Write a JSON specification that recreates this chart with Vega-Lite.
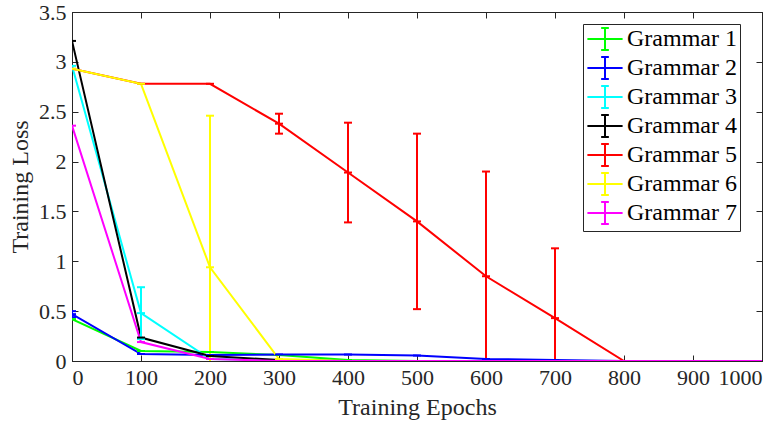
{
  "$schema": "https://vega.github.io/schema/vega-lite/v6.json",
  "width": 690,
  "height": 349,
  "autosize": "none",
  "padding": {"left": 72, "top": 12, "right": 22, "bottom": 62},
  "background": "white",
  "config": {
    "view": {"stroke": "#262626", "strokeWidth": 1},
    "font": "'Liberation Serif', 'Times New Roman', serif",
    "axis": {
      "labelFont": "'Liberation Serif', 'Times New Roman', serif",
      "titleFont": "'Liberation Serif', 'Times New Roman', serif",
      "labelFontSize": 22,
      "titleFontSize": 24,
      "titleFontWeight": "normal",
      "labelColor": "#262626",
      "titleColor": "#262626",
      "domainColor": "#262626",
      "tickColor": "#262626",
      "grid": false,
      "tickSize": -6,
      "labelPadding": 12
    }
  },
  "data": {
    "values": [
      {"g": "Grammar 1", "epoch": 0, "loss": 0.42},
      {"g": "Grammar 1", "epoch": 100, "loss": 0.10},
      {"g": "Grammar 1", "epoch": 200, "loss": 0.09},
      {"g": "Grammar 1", "epoch": 300, "loss": 0.06},
      {"g": "Grammar 1", "epoch": 400, "loss": 0.01},
      {"g": "Grammar 1", "epoch": 500, "loss": 0},
      {"g": "Grammar 1", "epoch": 600, "loss": 0},
      {"g": "Grammar 1", "epoch": 700, "loss": 0},
      {"g": "Grammar 1", "epoch": 800, "loss": 0},
      {"g": "Grammar 1", "epoch": 900, "loss": 0},
      {"g": "Grammar 1", "epoch": 1000, "loss": 0},
      {"g": "Grammar 2", "epoch": 0, "loss": 0.47, "lo": 0.44, "hi": 0.50},
      {"g": "Grammar 2", "epoch": 100, "loss": 0.07},
      {"g": "Grammar 2", "epoch": 200, "loss": 0.06},
      {"g": "Grammar 2", "epoch": 300, "loss": 0.065},
      {"g": "Grammar 2", "epoch": 400, "loss": 0.065},
      {"g": "Grammar 2", "epoch": 500, "loss": 0.055},
      {"g": "Grammar 2", "epoch": 600, "loss": 0.02},
      {"g": "Grammar 2", "epoch": 700, "loss": 0.01},
      {"g": "Grammar 2", "epoch": 800, "loss": 0},
      {"g": "Grammar 2", "epoch": 900, "loss": 0},
      {"g": "Grammar 2", "epoch": 1000, "loss": 0},
      {"g": "Grammar 3", "epoch": 0, "loss": 2.96},
      {"g": "Grammar 3", "epoch": 100, "loss": 0.48, "lo": 0.22, "hi": 0.74},
      {"g": "Grammar 3", "epoch": 200, "loss": 0.02},
      {"g": "Grammar 3", "epoch": 300, "loss": 0.01},
      {"g": "Grammar 3", "epoch": 400, "loss": 0},
      {"g": "Grammar 3", "epoch": 500, "loss": 0},
      {"g": "Grammar 3", "epoch": 600, "loss": 0},
      {"g": "Grammar 3", "epoch": 700, "loss": 0},
      {"g": "Grammar 3", "epoch": 800, "loss": 0},
      {"g": "Grammar 3", "epoch": 900, "loss": 0},
      {"g": "Grammar 3", "epoch": 1000, "loss": 0},
      {"g": "Grammar 4", "epoch": 0, "loss": 3.21},
      {"g": "Grammar 4", "epoch": 100, "loss": 0.235},
      {"g": "Grammar 4", "epoch": 200, "loss": 0.05},
      {"g": "Grammar 4", "epoch": 300, "loss": 0.01},
      {"g": "Grammar 4", "epoch": 400, "loss": 0},
      {"g": "Grammar 4", "epoch": 500, "loss": 0},
      {"g": "Grammar 4", "epoch": 600, "loss": 0},
      {"g": "Grammar 4", "epoch": 700, "loss": 0},
      {"g": "Grammar 4", "epoch": 800, "loss": 0},
      {"g": "Grammar 4", "epoch": 900, "loss": 0},
      {"g": "Grammar 4", "epoch": 1000, "loss": 0},
      {"g": "Grammar 5", "epoch": 0, "loss": 2.93},
      {"g": "Grammar 5", "epoch": 100, "loss": 2.78},
      {"g": "Grammar 5", "epoch": 200, "loss": 2.78},
      {"g": "Grammar 5", "epoch": 300, "loss": 2.38, "lo": 2.28, "hi": 2.48},
      {"g": "Grammar 5", "epoch": 400, "loss": 1.89, "lo": 1.39, "hi": 2.39},
      {"g": "Grammar 5", "epoch": 500, "loss": 1.40, "lo": 0.52, "hi": 2.28},
      {"g": "Grammar 5", "epoch": 600, "loss": 0.85, "lo": -0.2, "hi": 1.90},
      {"g": "Grammar 5", "epoch": 700, "loss": 0.43, "lo": -0.27, "hi": 1.13},
      {"g": "Grammar 5", "epoch": 800, "loss": 0},
      {"g": "Grammar 5", "epoch": 900, "loss": 0},
      {"g": "Grammar 5", "epoch": 1000, "loss": 0},
      {"g": "Grammar 6", "epoch": 0, "loss": 2.93},
      {"g": "Grammar 6", "epoch": 100, "loss": 2.78},
      {"g": "Grammar 6", "epoch": 200, "loss": 0.94, "lo": -0.58, "hi": 2.46},
      {"g": "Grammar 6", "epoch": 300, "loss": 0.02},
      {"g": "Grammar 6", "epoch": 400, "loss": 0},
      {"g": "Grammar 6", "epoch": 500, "loss": 0},
      {"g": "Grammar 6", "epoch": 600, "loss": 0},
      {"g": "Grammar 6", "epoch": 700, "loss": 0},
      {"g": "Grammar 6", "epoch": 800, "loss": 0},
      {"g": "Grammar 6", "epoch": 900, "loss": 0},
      {"g": "Grammar 6", "epoch": 1000, "loss": 0},
      {"g": "Grammar 7", "epoch": 0, "loss": 2.36},
      {"g": "Grammar 7", "epoch": 100, "loss": 0.19},
      {"g": "Grammar 7", "epoch": 200, "loss": 0.02},
      {"g": "Grammar 7", "epoch": 300, "loss": 0},
      {"g": "Grammar 7", "epoch": 400, "loss": 0},
      {"g": "Grammar 7", "epoch": 500, "loss": 0},
      {"g": "Grammar 7", "epoch": 600, "loss": 0},
      {"g": "Grammar 7", "epoch": 700, "loss": 0},
      {"g": "Grammar 7", "epoch": 800, "loss": 0},
      {"g": "Grammar 7", "epoch": 900, "loss": 0},
      {"g": "Grammar 7", "epoch": 1000, "loss": 0}
    ]
  },
  "resolve": {"axis": {"x": "independent", "y": "independent"}},
  "layer": [
    {
      "mark": {"type": "line", "strokeWidth": 2, "clip": true},
      "encoding": {
        "x": {"field": "epoch", "type": "quantitative",
              "scale": {"domain": [0, 1000], "nice": false},
              "axis": {"orient": "bottom", "title": "Training Epochs", "values": [0,100,200,300,400,500,600,700,800,900,1000], "format": "d", "titlePadding": 7}},
        "y": {"field": "loss", "type": "quantitative",
              "scale": {"domain": [0, 3.5], "nice": false},
              "axis": {"orient": "left", "title": "Training Loss", "values": [0,0.5,1,1.5,2,2.5,3,3.5], "labelExpr": "'' + datum.value", "titlePadding": 6}},
        "color": {"field": "g", "type": "nominal",
                  "scale": {"domain": ["Grammar 1","Grammar 2","Grammar 3","Grammar 4","Grammar 5","Grammar 6","Grammar 7"],
                            "range": ["#00ff00","#0000ff","#00ffff","#000000","#ff0000","#ffff00","#ff00ff"]},
                  "legend": {
                    "orient": "none", "legendX": 511, "legendY": 12,
                    "title": null,
                    "strokeColor": "#262626", "fillColor": "white",
                    "padding": 3,
                    "labelFont": "'Liberation Serif', 'Times New Roman', serif", "labelFontSize": 24, "labelColor": "#000000",
                    "symbolType": "M-1.6,0H1.6M0,-1V1M-0.35,-1H0.35M-0.35,1H0.35",
                    "symbolSize": 484, "symbolStrokeWidth": 2,
                    "symbolOffset": 7,
                    "labelOffset": 10, "rowPadding": -1
                  }},
        "order": {"field": "epoch", "type": "quantitative"}
      }
    },
    {
      "transform": [{"filter": "isValid(datum.lo)"}],
      "mark": {"type": "rule", "strokeWidth": 2, "clip": true},
      "encoding": {
        "x": {"field": "epoch", "type": "quantitative",
              "axis": {"orient": "top", "labels": false, "title": null, "values": [0,100,200,300,400,500,600,700,800,900,1000]}},
        "y": {"field": "lo", "type": "quantitative",
              "axis": {"orient": "right", "labels": false, "title": null, "values": [0,0.5,1,1.5,2,2.5,3,3.5]}},
        "y2": {"field": "hi"},
        "color": {"field": "g", "type": "nominal", "legend": null}
      }
    },
    {
      "transform": [{"filter": "isValid(datum.lo)"}],
      "mark": {"type": "tick", "orient": "horizontal", "size": 8, "thickness": 2, "clip": true, "opacity": 1},
      "encoding": {
        "x": {"field": "epoch", "type": "quantitative", "axis": null},
        "y": {"field": "lo", "type": "quantitative", "axis": null},
        "color": {"field": "g", "type": "nominal", "legend": null}
      }
    },
    {
      "transform": [{"filter": "isValid(datum.hi)"}],
      "mark": {"type": "tick", "orient": "horizontal", "size": 8, "thickness": 2, "clip": true, "opacity": 1},
      "encoding": {
        "x": {"field": "epoch", "type": "quantitative", "axis": null},
        "y": {"field": "hi", "type": "quantitative", "axis": null},
        "color": {"field": "g", "type": "nominal", "legend": null}
      }
    },
    {
      "mark": {"type": "tick", "orient": "horizontal", "size": 8, "thickness": 2, "clip": true, "opacity": 1},
      "encoding": {
        "x": {"field": "epoch", "type": "quantitative", "axis": null},
        "y": {"field": "loss", "type": "quantitative", "axis": null},
        "color": {"field": "g", "type": "nominal", "legend": null}
      }
    }
  ]
}
